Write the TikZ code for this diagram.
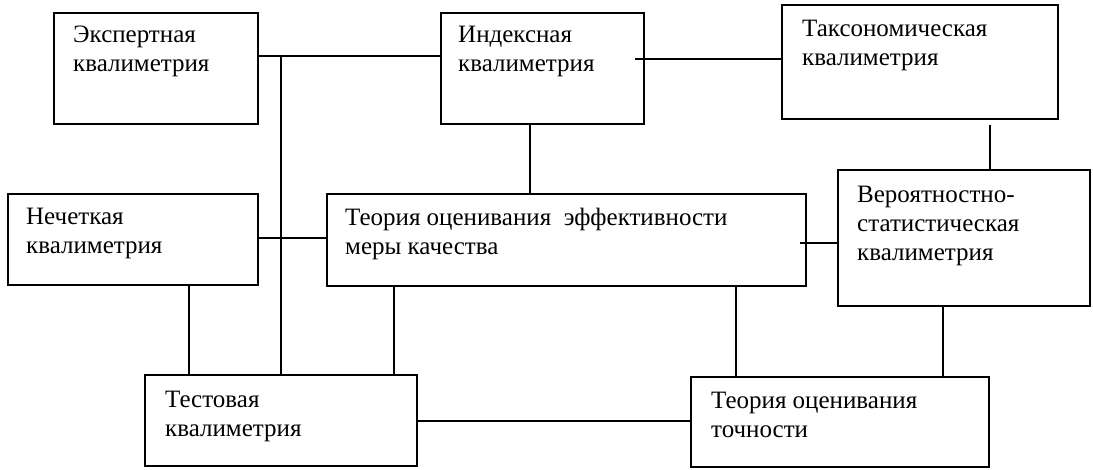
\documentclass[tikz,border=0pt]{standalone}
\usepackage{fontspec}
\setmainfont{Liberation Serif}
\usepackage{tikz}

\begin{document}
\begin{tikzpicture}[x=1pt, y=-1pt]
        \tikzset{
            box/.style={draw, line width=2pt, anchor=north west, inner sep=0pt},
            txt/.style={anchor=north west, align=left, inner sep=0pt, font=\fontsize{25}{29}\selectfont},
            link/.style={line width=1.8pt}
        }
        \useasboundingbox (0,0) rectangle (1093,469);
        \node[box, minimum width=204, minimum height=111] (expert) at (53,12) {};
        \node[box, minimum width=203, minimum height=111] (index) at (440,12) {};
        \node[box, minimum width=276, minimum height=114] (taxon) at (781,4) {};
        \node[box, minimum width=250, minimum height=91] (fuzzy) at (7,193) {};
        \node[box, minimum width=479, minimum height=92] (theory) at (326,193) {};
        \node[box, minimum width=252, minimum height=136] (prob) at (837,169) {};
        \node[box, minimum width=272, minimum height=91] (test) at (144,374) {};
        \node[box, minimum width=298, minimum height=90] (accuracy) at (690,376) {};
        \node[txt] (expertT) at (73,26) {Экспертная\\квалиметрия};
        \node[txt] (indexT) at (458,26) {Индексная\\квалиметрия};
        \node[txt] (taxonT) at (802,20) {Таксономическая\\квалиметрия};
        \node[txt] (fuzzyT) at (26,208) {Нечеткая\\квалиметрия};
        \node[txt] (theoryT) at (345,208) {Теория оценивания\ \ эффективности\\меры качества};
        \node[txt] (probT) at (857,186) {Вероятностно-\\статистическая\\квалиметрия};
        \node[txt] (testT) at (165,391) {Тестовая\\квалиметрия};
        \node[txt] (accuracyT) at (711,392) {Теория оценивания\\точности};
        \coordinate (t1) at (281,56);
        \coordinate (t2) at (281,238);
        \coordinate (t3) at (530,150);
        \coordinate (t4) at (635,59);
        \coordinate (t5) at (990,125);
        \coordinate (t6) at (800,243);
        \coordinate (t7) at (189,330);
        \coordinate (t8) at (394,330);
        \coordinate (t9) at (736,330);
        \coordinate (t10) at (943,340);
        \coordinate (t11) at (550,421);
        \draw[link] (expert.east |- t1) -- (index.west |- t1);
        \draw[link] (t1) -- (t1 |- test.north);
        \draw[link] (fuzzy.east |- t2) -- (theory.west |- t2);
        \draw[link] (t3 |- index.south) -- (t3 |- theory.north);
        \draw[link] (t4) -- (taxon.west |- t4);
        \draw[link] (t5) -- (t5 |- prob.north);
        \draw[link] (t6) -- (prob.west |- t6);
        \draw[link] (t7 |- fuzzy.south) -- (t7 |- test.north);
        \draw[link] (t8 |- theory.south) -- (t8 |- test.north);
        \draw[link] (t9 |- theory.south) -- (t9 |- accuracy.north);
        \draw[link] (t10 |- prob.south) -- (t10 |- accuracy.north);
        \draw[link] (test.east |- t11) -- (accuracy.west |- t11);
    \end{tikzpicture}
\end{document}
